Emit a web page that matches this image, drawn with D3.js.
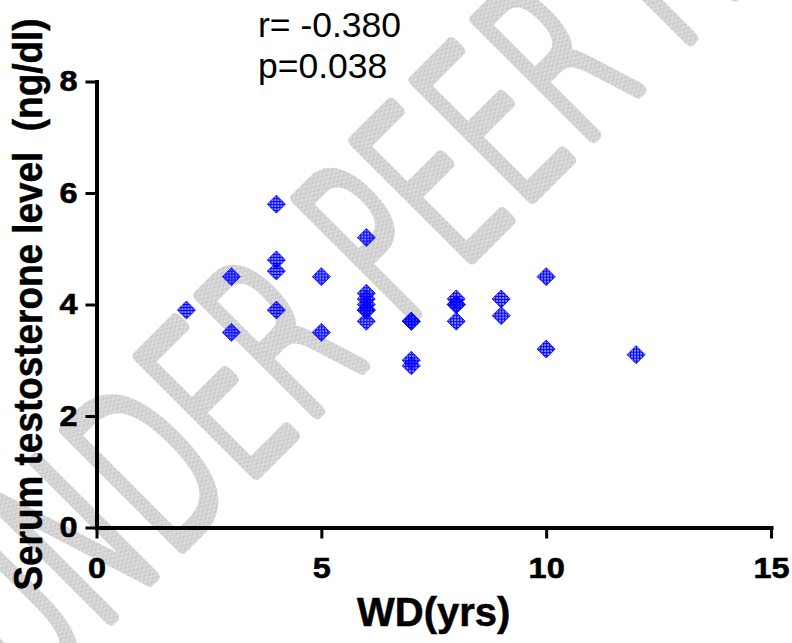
<!DOCTYPE html>
<html>
<head>
<meta charset="utf-8">
<script src="https://cdn.jsdelivr.net/npm/d3@7"></script>
<style>
  html, body { margin: 0; padding: 0; background: #fff; }
  svg { display: block; }
</style>
</head>
<body>
<svg id="chart" width="792" height="643"></svg>
<script>
// Work duration (years) and serum testosterone (ng/dl), one entry per subject
const wdYears = [2, 3, 3, 4, 4, 4, 4, 5, 5, 6, 6, 6, 6, 6, 6, 6, 7, 7, 7, 7, 8, 8, 8, 8, 9, 9, 10, 10, 12];
const testosterone = [3.9, 4.5, 3.5, 5.8, 4.8, 4.6, 3.9, 4.5, 3.5, 5.2, 4.2, 4.1, 4.0, 3.9, 3.9, 3.7, 3.7, 3.7, 3.0, 2.9, 4.1, 4.0, 4.0, 3.7, 4.1, 3.8, 4.5, 3.2, 3.1];
const xTicks = [0, 5, 10, 15];
const yTicks = [0, 2, 4, 6, 8];
const statLines = ["r= -0.380", "p=0.038"];
const xTitle = "WD(yrs)";
const yTitle = "Serum testosterone level  (ng/dl)";
const stampText = "UNDER PEER REVIEW";

const svg = d3.select("#chart");
const FONT = "'Liberation Sans', Arial, Helvetica, sans-serif";

const x = d3.scaleLinear().domain([0, 15]).range([96.5, 771]);
const y = d3.scaleLinear().domain([0, 8]).range([527.5, 81.5]);

const defs = svg.append("defs");

// Cross-hatched marker fill
const hatch = defs.append("pattern")
  .attr("id", "hatch")
  .attr("patternUnits", "userSpaceOnUse")
  .attr("width", 3).attr("height", 3);
hatch.append("rect").attr("width", 3).attr("height", 3)
  .attr("fill", "#0000ff").attr("fill-opacity", 0.45);
hatch.append("path").attr("d", "M0,0.5H3M0.5,0V3")
  .attr("stroke", "#0000ff").attr("stroke-width", 1);

// Fine grey stipple for the stamp lettering
const stipple = defs.append("pattern")
  .attr("id", "stipple")
  .attr("patternUnits", "userSpaceOnUse")
  .attr("width", 2).attr("height", 2);
stipple.append("rect").attr("width", 2).attr("height", 2).attr("fill", "#e2e2e2");
stipple.append("rect").attr("width", 1).attr("height", 1).attr("fill", "#c6c6c6");
stipple.append("rect").attr("x", 1).attr("y", 1).attr("width", 1).attr("height", 1).attr("fill", "#c6c6c6");

// Diagonal review stamp behind the plot
svg.append("text")
  .attr("transform", "translate(27,702) rotate(-45) scale(0.6,1)")
  .attr("font-family", "'DejaVu Sans', sans-serif")
  .attr("font-weight", 200)
  .attr("font-size", 226)
  .attr("fill", "url(#stipple)")
  .attr("stroke", "url(#stipple)")
  .attr("stroke-width", 11)
  .attr("vector-effect", "non-scaling-stroke")
  .attr("stroke-linejoin", "round")
  .attr("stroke-linecap", "round")
  .text(stampText);

// Axes
const xAxis = d3.axisBottom(x).tickValues(xTicks).tickFormat(d3.format("d"))
  .tickSize(11).tickSizeOuter(0).tickPadding(19);
const yAxis = d3.axisLeft(y).tickValues(yTicks).tickFormat(d3.format("d"))
  .tickSize(11).tickSizeOuter(0).tickPadding(6);

function styleAxis(g) {
  g.select(".domain").attr("stroke", "#000").attr("stroke-width", 4).attr("stroke-linecap", "square");
  g.selectAll(".tick line").attr("stroke", "#000").attr("stroke-width", 3);
  g.selectAll(".tick text")
    .attr("fill", "#000")
    .attr("stroke", "#000")
    .attr("stroke-width", 0.6)
    .attr("font-family", FONT)
    .attr("font-weight", "bold")
    .attr("font-size", 29)
    .attr("transform", "scale(1.12,1)");
}

svg.append("g").attr("transform", `translate(0,${y(0)})`).call(xAxis).call(styleAxis);
svg.append("g").attr("transform", `translate(${x(0)},0)`).call(yAxis).call(styleAxis);

// Data points: square-proportioned diamonds
const diamond = {
  draw(ctx, size) {
    const r = Math.sqrt(size / 2);
    ctx.moveTo(0, -r); ctx.lineTo(r, 0); ctx.lineTo(0, r); ctx.lineTo(-r, 0); ctx.closePath();
  }
};
const pts = wdYears.map((v, i) => ({ wd: v, t: testosterone[i] }));
svg.append("g").selectAll("path")
  .data(pts)
  .join("path")
  .attr("d", d3.symbol(diamond, 162))
  .attr("transform", d => `translate(${x(d.wd)},${y(d.t)})`)
  .attr("fill", "url(#hatch)")
  .attr("stroke", "#0000ff")
  .attr("stroke-opacity", 0.8)
  .attr("stroke-width", 1);

// Axis titles
svg.append("text")
  .attr("x", (x(0) + x(15)) / 2)
  .attr("y", 626)
  .attr("text-anchor", "middle")
  .attr("font-family", FONT)
  .attr("font-weight", "bold")
  .attr("font-size", 40)
  .attr("stroke", "#000")
  .attr("stroke-width", 0.5)
  .text(xTitle);

svg.append("text")
  .attr("transform", `translate(42,${(y(0) + y(8)) / 2}) rotate(-90) scale(0.9,1)`)
  .attr("text-anchor", "middle")
  .attr("font-family", FONT)
  .attr("font-weight", "bold")
  .attr("font-size", 41)
  .attr("stroke", "#000")
  .attr("stroke-width", 0.5)
  .style("white-space", "pre")
  .text(yTitle);

// Correlation annotation
svg.append("g").selectAll("text")
  .data(statLines)
  .join("text")
  .attr("x", 258)
  .attr("y", (d, i) => 37 + i * 41)
  .attr("font-family", FONT)
  .attr("font-size", 35.5)
  .attr("fill", "#000")
  .text(d => d);
</script>
</body>
</html>
